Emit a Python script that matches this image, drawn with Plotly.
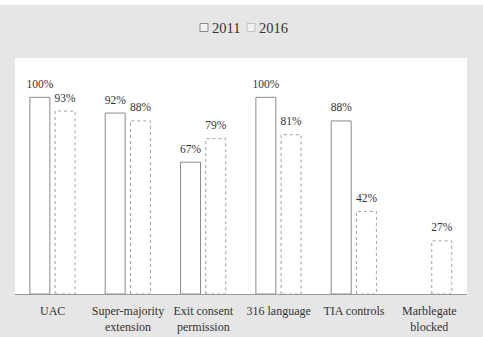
import plotly.graph_objects as go

categories = ["UAC", "Super-majority<br>extension", "Exit consent<br>permission",
              "316 language", "TIA controls", "Marblegate<br>blocked"]
series_names = ["2011", "2016"]
values_2011 = [100, 92, 67, 100, 88, None]
values_2016 = [93, 88, 79, 81, 42, 27]

FONT = "Liberation Serif"
BAR_W = 0.265
OFFSETS = [-0.17, 0.165]
line_colors = ["#8a8a8a", "#a0a0a0"]
dashes = ["solid", "dot"]

# plot area geometry (pixels) for the hand-made legend
L, R, T, B = 15, 16, 58, 43
W, H = 483, 337
PW, PH = W - L - R, H - T - B
def px(x): return (x - L) / PW
def py(y): return (H - B - y) / PH

fig = go.Figure()
for name, vals, off, lc, ds in zip(series_names, [values_2011, values_2016],
                                   OFFSETS, line_colors, dashes):
    xs, ys = [], []
    tx, ty, tt = [], [], []
    for i, v in enumerate(vals):
        if v is None:
            continue
        c = i + off
        x0, x1 = c - BAR_W / 2, c + BAR_W / 2
        xs += [x0, x0, x1, x1, x0, None]
        ys += [0, v, v, 0, 0, None]
        tx.append(c); ty.append(v); tt.append(f"{v}%")
    fig.add_trace(go.Scatter(x=xs, y=ys, mode="lines", fill="toself",
                             fillcolor="white", line=dict(color=lc, width=1, dash=ds),
                             name=name, showlegend=False, hoverinfo="skip"))
    fig.add_trace(go.Scatter(x=tx, y=ty, mode="markers+text", text=tt,
                             textposition="top center", showlegend=False,
                             marker=dict(size=9, color="rgba(0,0,0,0)"),
                             hoverinfo="skip",
                             textfont=dict(family=FONT, size=11.5, color="#333")))

fig.update_layout(
    width=W, height=H,
    margin=dict(l=L, r=R, t=T, b=B, autoexpand=False),
    paper_bgcolor="#e6e6e6", plot_bgcolor="white",
    font=dict(family=FONT, color="#333"),
    showlegend=False,
)
fig.update_xaxes(range=[-0.5, 5.5], tickmode="array", tickvals=list(range(len(categories))),
                 ticktext=categories, showgrid=False, zeroline=False, showline=True,
                 linecolor="#999", linewidth=1, ticks="outside", ticklen=6,
                 tickcolor="rgba(0,0,0,0)", automargin=False,
                 tickfont=dict(size=12, family=FONT, color="#333"), fixedrange=True)
fig.update_yaxes(range=[0, 120], visible=False, showgrid=False, zeroline=False,
                 fixedrange=True, automargin=False)

# thin white strip at the very top
fig.add_shape(type="rect", xref="paper", yref="paper", x0=px(-5), x1=px(W + 5),
              y0=py(5), y1=py(-5), fillcolor="white", line_width=0, layer="below")

# legend: square icons + labels
icon_x = [200, 247]
text_x = [210, 257]
for name, ix, tx_, lc in zip(series_names, icon_x, text_x, ["#8a8a8a", "#c2c2c2"]):
    fig.add_shape(type="rect", xref="paper", yref="paper",
                  x0=px(ix), x1=px(ix + 8), y0=py(31.5), y1=py(23.5),
                  fillcolor="#f2f2f2", line=dict(color=lc, width=1))
    fig.add_annotation(xref="paper", yref="paper", x=px(tx_), y=py(27.5),
                       xanchor="left", yanchor="middle", text=name, showarrow=False,
                       font=dict(family=FONT, size=14.5, color="#333"))
fig.write_html("out.html")
